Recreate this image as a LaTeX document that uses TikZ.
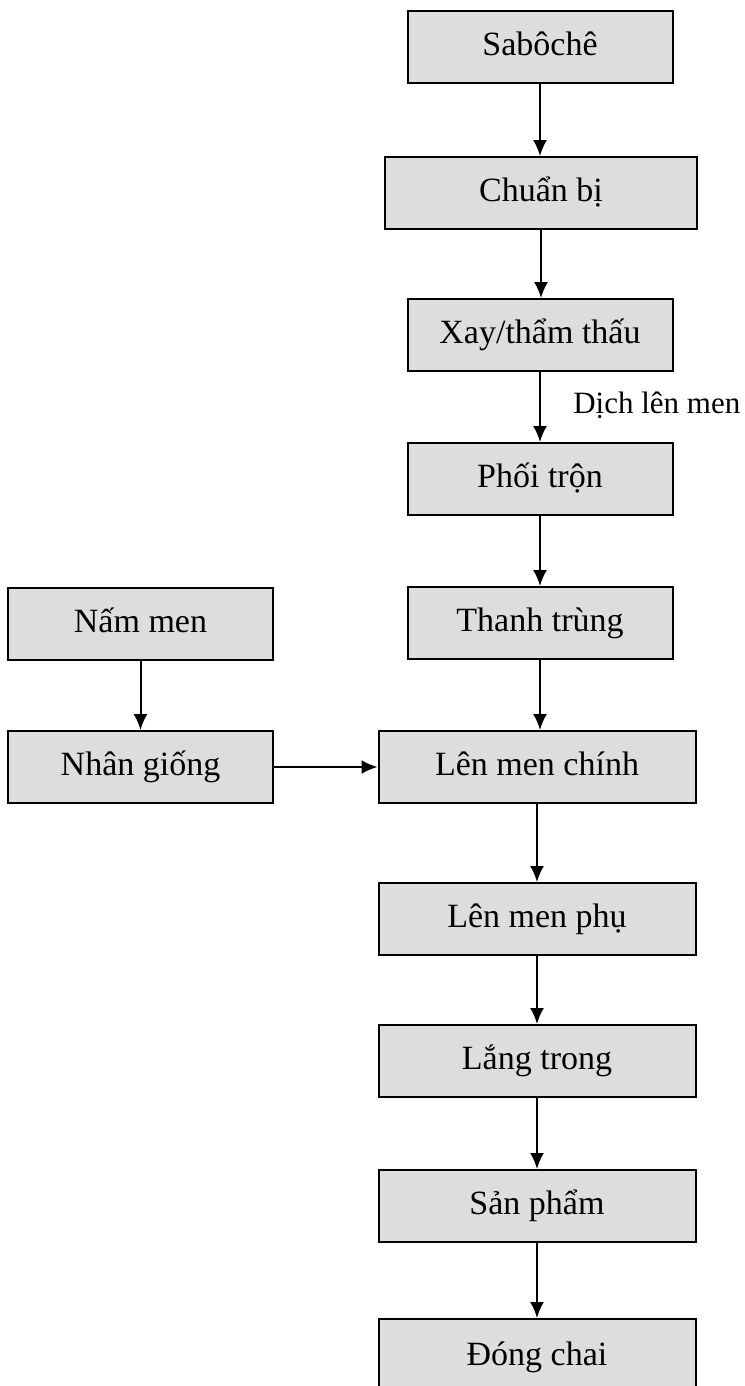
\documentclass[tikz,border=0pt]{standalone}
\usepackage{fontspec}
\setmainfont{Liberation Serif}
\usetikzlibrary{arrows.meta}
\definecolor{boxfill}{RGB}{221,221,221}
\tikzset{
  stage/.style={draw=black, line width=1.5pt, fill=boxfill, inner sep=0pt,
    minimum width=#1, minimum height=54pt, text height=19pt, text depth=6.4pt,
    font=\fontsize{25.5}{30}\selectfont},
  stage/.default=198.75pt,
  flow/.style={line width=1.5pt, -{Latex[length=12pt,width=10.5pt]}},
  note/.style={inner sep=0pt, font=\fontsize{23.25}{28}\selectfont}
}

\begin{document}
\begin{tikzpicture}[x=0.75pt,y=-0.75pt]
    \useasboundingbox (0,0) rectangle (745,1386);
    % main line
    \node[stage] (sab) at (540,47) {Sabôchê};
    \node[stage=234pt] (cb) at (541,193) {Chuẩn bị};
    \node[stage] (xay) at (540,335) {Xay/thẩm thấu};
    \node[stage] (phoi) at (540,479) {Phối trộn};
    \node[stage] (thanh) at (540,623) {Thanh trùng};
    \node[stage=237.75pt] (lmc) at (537,767) {Lên men chính};
    \node[stage=237.75pt] (lmp) at (537,919) {Lên men phụ};
    \node[stage=237.75pt] (lang) at (537,1061) {Lắng trong};
    \node[stage=237.75pt] (sp) at (537,1206) {Sản phẩm};
    \node[stage=237.75pt, minimum height=57pt] (dc) at (537,1357) {Đóng chai};
    % yeast
    \node[stage] (nam) at (140.5,624) {Nấm men};
    \node[stage] (nhan) at (140.5,767) {Nhân giống};
    \node[note, anchor=base west] (dich) at (573,413) {Dịch lên men};
    \foreach \a/\b in {sab/cb, cb/xay, xay/phoi, phoi/thanh, thanh/lmc, lmc/lmp, lmp/lang, lang/sp, sp/dc, nam/nhan}
        \draw[flow] (\a.south) -- (\a.south |- \b.north);
    \draw[flow] (nhan) -- (lmc);
\end{tikzpicture}
\end{document}
